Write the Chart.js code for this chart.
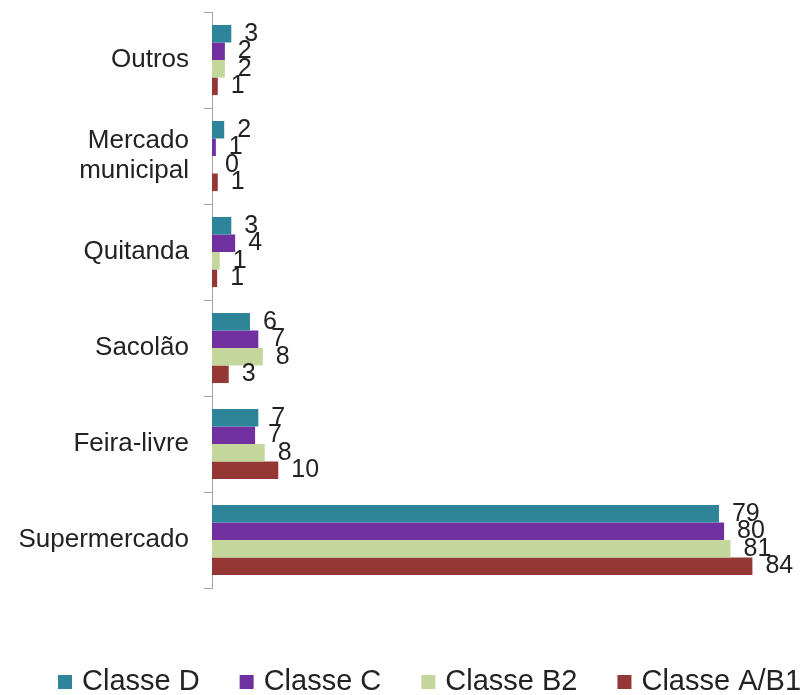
<!DOCTYPE html>
<html>
<head>
<meta charset="utf-8">
<script src="https://cdn.jsdelivr.net/npm/chart.js@4"></script>
<style>
  html, body { margin: 0; padding: 0; background: #ffffff; }
  #wrap { width: 810px; height: 695px; position: relative; }
</style>
</head>
<body>
<div id="wrap"><canvas id="c" width="810" height="695"></canvas></div>
<script>
// ---- data ----
const categories = ['Outros', ['Mercado', 'municipal'], 'Quitanda', 'Sacolão', 'Feira-livre', 'Supermercado'];
const seriesNames = ['Classe D', 'Classe C', 'Classe B2', 'Classe A/B1'];
const classeD   = [3.0, 1.9, 3.0, 5.9, 7.2, 78.8];
const classeC   = [2.0, 0.6, 3.6, 7.2, 6.7, 79.6];
const classeB2  = [2.0, 0.0, 1.2, 7.9, 8.2, 80.6];
const classeAB1 = [0.9, 0.9, 0.8, 2.6, 10.3, 84.0];
const seriesColors = ['#2E8599', '#7030A0', '#C3D69B', '#953735'];

const FONT = '"Liberation Sans", Arial, sans-serif';

const valueLabels = {
  id: 'valueLabels',
  afterDatasetsDraw(chart) {
    const ctx = chart.ctx;
    ctx.save();
    ctx.font = '25px ' + FONT;
    ctx.fillStyle = '#222222';
    ctx.textAlign = 'left';
    ctx.textBaseline = 'middle';
    chart.data.datasets.forEach((ds, i) => {
      const meta = chart.getDatasetMeta(i);
      meta.data.forEach((bar, j) => {
        ctx.fillText(String(Math.round(ds.data[j])), bar.x + 13, bar.y);
      });
    });
    ctx.restore();
  }
};

const bottomLegend = {
  id: 'bottomLegend',
  afterDraw(chart) {
    const ctx = chart.ctx;
    ctx.save();
    ctx.font = '29px ' + FONT;
    ctx.textAlign = 'left';
    ctx.textBaseline = 'middle';
    const cy = 682;
    let x = 58;
    chart.data.datasets.forEach((ds) => {
      ctx.fillStyle = ds.backgroundColor;
      ctx.fillRect(x, cy - 7, 14, 14);
      ctx.fillStyle = '#222222';
      ctx.fillText(ds.label, x + 24, cy);
      x += 24 + ctx.measureText(ds.label).width + 40;
    });
    ctx.restore();
  }
};

const seriesData = [classeD, classeC, classeB2, classeAB1];

new Chart(document.getElementById('c'), {
  type: 'bar',
  data: {
    labels: categories,
    datasets: seriesNames.map((name, i) => ({
      label: name,
      data: seriesData[i],
      backgroundColor: seriesColors[i],
      borderWidth: 0,
      categoryPercentage: 0.73,
      barPercentage: 1.0
    }))
  },
  options: {
    indexAxis: 'y',
    responsive: false,
    animation: false,
    devicePixelRatio: 1,
    layout: { padding: { top: 12, right: 19, left: 0, bottom: 0 } },
    plugins: {
      legend: { display: false },
      tooltip: { enabled: false }
    },
    scales: {
      x: {
        min: 0,
        max: 90,
        display: true,
        grid: { display: false, drawTicks: false },
        border: { display: false },
        ticks: { display: false },
        afterFit(s) { s.height = 107; s.paddingLeft = 0; s.paddingRight = 0; }
      },
      y: {
        offset: true,
        grid: {
          offset: true,
          drawOnChartArea: false,
          drawTicks: true,
          tickLength: 8,
          color: '#a6a6a6',
          lineWidth: 1
        },
        border: { display: true, color: '#a6a6a6', width: 1 },
        ticks: {
          padding: 15,
          color: '#222222',
          font: { family: FONT, size: 26, lineHeight: 1.15 }
        },
        afterFit(s) { s.width = 212; s.paddingTop = 0; s.paddingBottom = 0; }
      }
    }
  },
  plugins: [valueLabels, bottomLegend]
});
</script>
</body>
</html>
